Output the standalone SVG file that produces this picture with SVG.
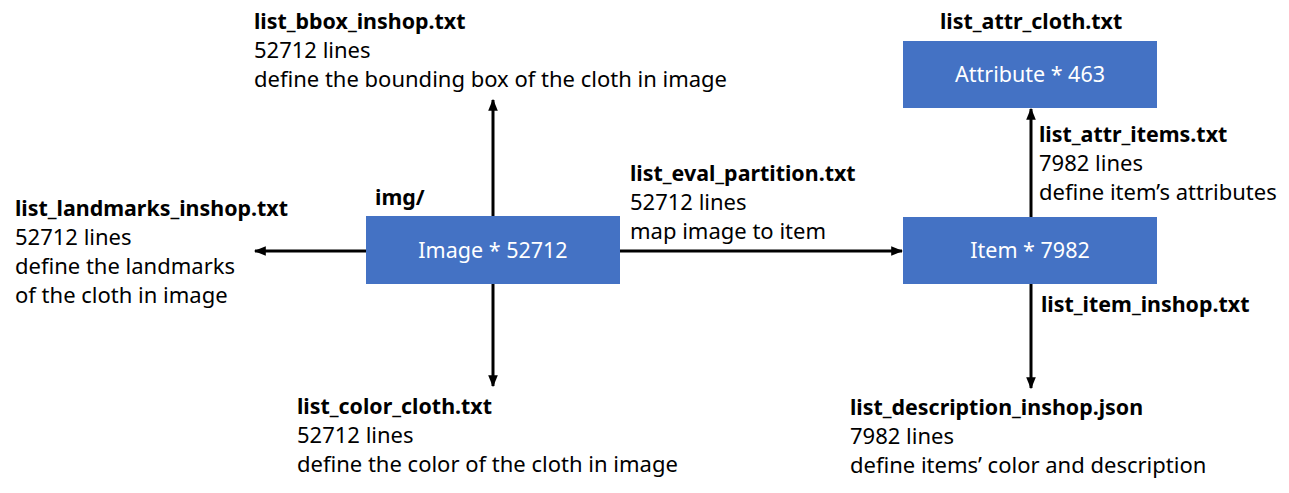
<svg xmlns="http://www.w3.org/2000/svg" width="1289" height="493" viewBox="0 0 1289 493">
<style>
.box{fill:#4472C4}
.bt{font-family:"Noto Sans","Liberation Sans",sans-serif;font-size:21.5px;fill:#ffffff;text-anchor:middle}
.t{font-family:"Noto Sans","Liberation Sans",sans-serif;font-size:22px;fill:#000000}
.b{font-weight:bold;font-size:21.4px}
.c{stroke:#000;stroke-width:3;fill:none;marker-end:url(#ah)}
</style>
<defs>
<marker id="ah" viewBox="0 0 10 10" refX="9" refY="5" markerWidth="4" markerHeight="4" orient="auto" markerUnits="strokeWidth">
<path d="M0,1 L10,5 L0,9 z" fill="#000"/>
</marker>
</defs>
<rect width="1289" height="493" fill="#fff"/>
<g id="connectors">
<line class="c" x1="493" y1="216" x2="493" y2="100"/>
<line class="c" x1="493" y1="284" x2="493" y2="386"/>
<line class="c" x1="366" y1="251" x2="255" y2="251"/>
<line class="c" x1="620" y1="251" x2="902" y2="251"/>
<line class="c" x1="1031" y1="217" x2="1031" y2="109"/>
<line class="c" x1="1031" y1="284" x2="1031" y2="388"/>
</g>
<g id="image">
<rect class="box" x="366" y="216" width="254" height="68"/>
<text class="bt" x="493" y="258">Image * 52712</text>
</g>
<g id="item">
<rect class="box" x="903" y="217" width="254" height="67"/>
<text class="bt" x="1030" y="258">Item * 7982</text>
</g>
<g id="attribute">
<rect class="box" x="903" y="41" width="254" height="67"/>
<text class="bt" x="1030" y="82">Attribute * 463</text>
</g>
<g id="labels">
<text class="t b" x="254" y="29">list_bbox_inshop.txt</text>
<text class="t" x="254" y="58">52712 lines</text>
<text class="t" x="254" y="87">define the bounding box of the cloth in image</text>
<text class="t b" x="15" y="216">list_landmarks_inshop.txt</text>
<text class="t" x="15" y="245">52712 lines</text>
<text class="t" x="15" y="274">define the landmarks</text>
<text class="t" x="15" y="303">of the cloth in image</text>
<text class="t b" x="375" y="205">img/</text>
<text class="t b" x="630" y="181">list_eval_partition.txt</text>
<text class="t" x="630" y="210">52712 lines</text>
<text class="t" x="630" y="239">map image to item</text>
<text class="t b" x="940" y="29">list_attr_cloth.txt</text>
<text class="t b" x="1039" y="142">list_attr_items.txt</text>
<text class="t" x="1039" y="171">7982 lines</text>
<text class="t" x="1039" y="200">define item’s attributes</text>
<text class="t b" x="1041" y="312">list_item_inshop.txt</text>
<text class="t b" x="297" y="414">list_color_cloth.txt</text>
<text class="t" x="297" y="443">52712 lines</text>
<text class="t" x="297" y="472">define the color of the cloth in image</text>
<text class="t b" x="850" y="415">list_description_inshop.json</text>
<text class="t" x="850" y="444">7982 lines</text>
<text class="t" x="850" y="473">define items’ color and description</text>
</g>
</svg>
